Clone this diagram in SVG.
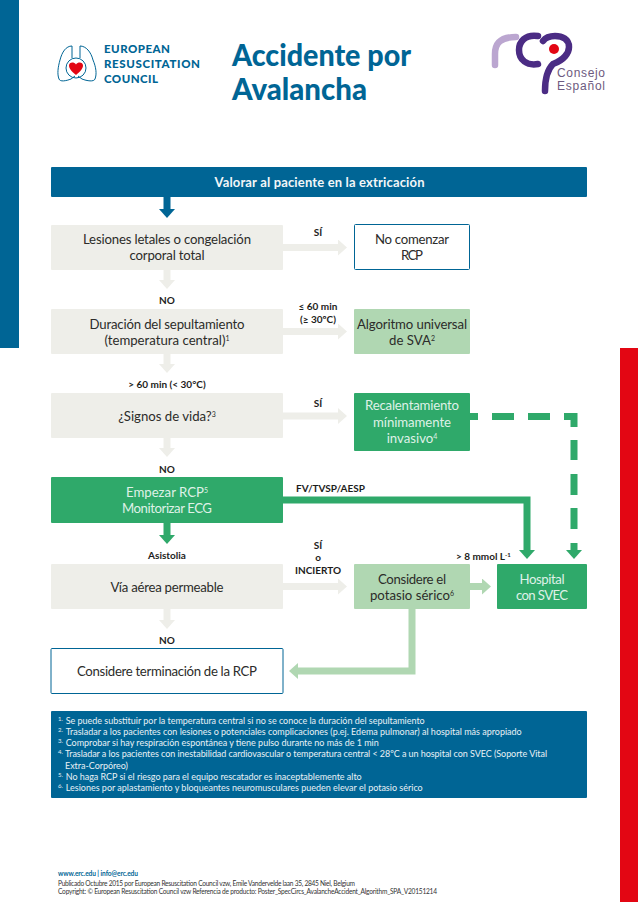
<svg xmlns="http://www.w3.org/2000/svg" width="638" height="902" viewBox="0 0 638 902">
<style>
text{font-family:"Lato","Open Sans","Liberation Sans",sans-serif}
.n{font-size:13.200px;fill:#2c2c2a;text-anchor:middle}
.w{fill:#dff1e7}
.l{font-size:10px;font-weight:700;fill:#1d1d1b;text-anchor:middle}
.f{font-size:9px;fill:#e8f1f5}
.fn{font-size:6px;fill:#e8f1f5}
.c{font-size:6.600px;fill:#333}
.t{font-size:29.500px;font-weight:900;fill:#006595}
.e{font-size:11.500px;font-weight:900;fill:#006595}
.gray{fill:#eeeee9}.lg{fill:#b0d7b2}.g{fill:#2fa96a}.b{fill:#006595}
.box{fill:#fff;stroke:#006595;stroke-width:1}
.a{fill:none;stroke-width:7;stroke-linejoin:miter}
.s{font-size:7px}
.rc{font-family:"Liberation Sans",sans-serif;font-size:12px;fill:#6d5a80}
</style>
<defs>
<marker id="hg" markerUnits="userSpaceOnUse" markerWidth="9" markerHeight="16" viewBox="0 0 9 16" refX="0" refY="8" orient="auto"><path d="M0,0L9,8L0,16Z" fill="#eeeee9"/></marker>
<marker id="hl" markerUnits="userSpaceOnUse" markerWidth="9" markerHeight="16" viewBox="0 0 9 16" refX="0" refY="8" orient="auto"><path d="M0,0L9,8L0,16Z" fill="#b0d7b2"/></marker>
<marker id="hd" markerUnits="userSpaceOnUse" markerWidth="9" markerHeight="16" viewBox="0 0 9 16" refX="0" refY="8" orient="auto"><path d="M0,0L9,8L0,16Z" fill="#2fa96a"/></marker>
<marker id="hb" markerUnits="userSpaceOnUse" markerWidth="9" markerHeight="16" viewBox="0 0 9 16" refX="0" refY="8" orient="auto"><path d="M0,0L9,8L0,16Z" fill="#006595"/></marker>
</defs>
<rect width="638" height="902" fill="#fff"/>
<rect x="0" y="0" width="19" height="348" fill="#006595"/>
<rect x="620" y="348" width="18" height="554" fill="#e30613"/>

<g id="erc-logo">
<path d="M72,46C66,46 62,52 60,60C58,67 57,74 59,79C60,82 66,81 71,79L75,76" fill="none" stroke="#006595" stroke-width="1"/>
<path d="M80,46C86,46 91,52 93,60C96,67 97,74 95,79C94,82 87,81 82,79L78,76" fill="none" stroke="#006595" stroke-width="1"/>
<path d="M72,46V58M80,46V58" fill="none" stroke="#006595" stroke-width="1"/>
<circle cx="76" cy="68" r="10" fill="none" stroke="#006595" stroke-width="1"/>
<path d="M76,75C71,71 69,68 69,65.500C69,62 74,61.500 76,64.500C78,61.500 83,62 83,65.500C83,68 81,71 76,75Z" fill="#e30613"/>
<text class="e" x="104" y="53" textLength="66">EUROPEAN</text>
<text class="e" x="104" y="68" textLength="96">RESUSCITATION</text>
<text class="e" x="104" y="83" textLength="54">COUNCIL</text>
</g>
<g id="title">
<text class="t" x="232" y="66" textLength="179" lengthAdjust="spacingAndGlyphs">Accidente por</text>
<text class="t" x="232" y="100" textLength="135" lengthAdjust="spacingAndGlyphs">Avalancha</text>
</g>
<g id="rcp-logo">
<path d="M495,65V54C495,43 501,37 516,37" fill="none" stroke="#bba6d0" stroke-width="6.500" stroke-linecap="round"/>
<path d="M538,36C525,34 519,42 519,50C519,60 527,66 538,64" fill="none" stroke="#4b2c84" stroke-width="6.500" stroke-linecap="round"/>
<path d="M545,91C545,80 547,70 553,64C564,60 569,53 569,47C569,39 562,36 555,36C550,36 546,37 543,41" fill="none" stroke="#4b2c84" stroke-width="6.500" stroke-linecap="round"/>
<circle cx="554" cy="49" r="5" fill="#e30613"/>
<text class="rc" x="557" y="77" textLength="48">Consejo</text>
<text class="rc" x="557" y="89.500" textLength="48">Español</text>
</g>

<g id="connectors">
<path class="a" stroke="#006595" d="M167,197V209" marker-end="url(#hb)"/>
<path class="a" stroke="#eeeee9" d="M283,247.500H338" marker-end="url(#hg)"/>
<path class="a" stroke="#eeeee9" d="M167,270V280" marker-end="url(#hg)"/>
<path class="a" stroke="#eeeee9" d="M283,331.500H338" marker-end="url(#hg)"/>
<path class="a" stroke="#eeeee9" d="M167,354V364" marker-end="url(#hg)"/>
<path class="a" stroke="#eeeee9" d="M283,416H338" marker-end="url(#hg)"/>
<path class="a" stroke="#eeeee9" d="M167,438V448" marker-end="url(#hg)"/>
<path class="a" stroke="#2fa96a" d="M167,522V535" marker-end="url(#hd)"/>
<path class="a" stroke="#2fa96a" d="M283,500H527V550" marker-end="url(#hd)"/>
<path class="a" stroke="#2fa96a" d="M470,416.500H478M492,416.500H514M528,416.500H550M564,416.500H574V427M574,440V460M574,474V495M574,508V529M574,543V550" marker-end="url(#hd)"/>
<path class="a" stroke="#eeeee9" d="M283,586.500H338" marker-end="url(#hg)"/>
<path class="a" stroke="#b0d7b2" d="M470,586.500H482" marker-end="url(#hl)"/>
<path class="a" stroke="#eeeee9" d="M167,609V620" marker-end="url(#hg)"/>
<path class="a" stroke="#b0d7b2" d="M412,609V671H298" marker-end="url(#hl)"/>
</g>

<g id="n-valorar"><rect class="b" x="51" y="167" width="536" height="30" rx="1"/><text x="319.500" y="187" text-anchor="middle" font-size="13" font-weight="700" fill="#f2f6f8" textLength="210">Valorar al paciente en la extricación</text></g>
<g id="n-lesiones"><rect class="gray" x="51" y="225" width="232" height="45" rx="1"/><text class="n" x="167" y="244" textLength="168">Lesiones letales o congelación</text><text class="n" x="167" y="260" textLength="75">corporal total</text></g>
<g id="n-nocomenzar"><rect class="box" x="354.500" y="224.500" width="115" height="45" rx="1"/><text class="n" x="412" y="244" textLength="74">No comenzar</text><text class="n" x="412" y="260" textLength="22">RCP</text></g>
<g id="n-duracion"><rect class="gray" x="51" y="309" width="232" height="45" rx="1"/><text class="n" x="167" y="329" textLength="155">Duración del sepultamiento</text><text class="n" x="167" y="345">(temperatura central)<tspan class="s" baseline-shift="super">1</tspan></text></g>
<g id="n-algoritmo"><rect class="lg" x="354" y="309" width="116" height="45" rx="1"/><text class="n" x="412" y="329" textLength="110">Algoritmo universal</text><text class="n" x="412" y="345">de SVA<tspan class="s" baseline-shift="super">2</tspan></text></g>
<g id="n-signos"><rect class="gray" x="51" y="393" width="232" height="45" rx="1"/><text class="n" x="167" y="421">¿Signos de vida?<tspan class="s" baseline-shift="super">3</tspan></text></g>
<g id="n-recalentamiento"><rect class="g" x="354" y="393" width="116" height="58" rx="1"/><text class="n w" x="412" y="410" textLength="94">Recalentamiento</text><text class="n w" x="412" y="427" textLength="78">mínimamente</text><text class="n w" x="412" y="443">invasivo<tspan class="s" baseline-shift="super">4</tspan></text></g>
<g id="n-empezar"><rect class="g" x="51" y="477" width="232" height="46" rx="1"/><text class="n w" x="167" y="497">Empezar RCP<tspan class="s" baseline-shift="super">5</tspan></text><text class="n w" x="167" y="513" textLength="90">Monitorizar ECG</text></g>
<g id="n-via"><rect class="gray" x="51" y="564" width="232" height="45" rx="1"/><text class="n" x="167" y="592" textLength="113">Vía aérea permeable</text></g>
<g id="n-potasio"><rect class="lg" x="354" y="564" width="116" height="45" rx="1"/><text class="n" x="412" y="584" textLength="68">Considere el</text><text class="n" x="412" y="600">potasio sérico<tspan class="s" baseline-shift="super">6</tspan></text></g>
<g id="n-hospital"><rect class="g" x="497" y="564" width="90" height="45" rx="1"/><text class="n w" x="542" y="584" textLength="45">Hospital</text><text class="n w" x="542" y="600" textLength="52">con SVEC</text></g>
<g id="n-terminacion"><rect class="box" x="51" y="648.500" width="232" height="45" rx="1"/><text class="n" x="167" y="676" textLength="180">Considere terminación de la RCP</text></g>

<g id="labels">
<text class="l" x="318" y="236">SÍ</text>
<text class="l" x="167" y="304">NO</text>
<text class="l" x="318" y="310">≤ 60 min</text>
<text class="l" x="318" y="323">(≥ 30ºC)</text>
<text class="l" x="167" y="388">&gt; 60 min (&lt; 30°C)</text>
<text class="l" x="318" y="407">SÍ</text>
<text class="l" x="167" y="473">NO</text>
<text class="l" x="296" y="492" style="text-anchor:start" textLength="69">FV/TVSP/AESP</text>
<text class="l" x="167" y="559">Asistolia</text>
<text class="l" x="318" y="549">SÍ</text>
<text class="l" x="318" y="561">o</text>
<text class="l" x="318" y="574" textLength="46">INCIERTO</text>
<text class="l" x="456" y="560" style="text-anchor:start">&gt; 8 mmol L<tspan font-size="6" baseline-shift="super">-1</tspan></text>
<text class="l" x="167" y="644">NO</text>
</g>

<g id="footnotes">
<rect class="b" x="51" y="711" width="536" height="87" rx="1"/>
<text class="fn" x="58" y="721">1.</text><text class="f" x="65.700" y="724" textLength="359">Se puede substituir por la temperatura central si no se conoce la duración del sepultamiento</text>
<text class="fn" x="58" y="732">2.</text><text class="f" x="65.700" y="735" textLength="456">Trasladar a los pacientes con lesiones o potenciales complicaciones (p.ej. Edema pulmonar) al hospital más apropiado</text>
<text class="fn" x="58" y="743">3.</text><text class="f" x="65.700" y="746" textLength="313">Comprobar si hay respiración espontánea y tiene pulso durante no más de 1 min</text>
<text class="fn" x="58" y="754">4.</text><text class="f" x="65" y="757" textLength="482">Trasladar a los pacientes con inestabilidad cardiovascular o temperatura central &lt; 28ºC a un hospital con SVEC (Soporte Vital</text>
<text class="f" x="65" y="769" textLength="63">Extra-Corpóreo)</text>
<text class="fn" x="58" y="777">5.</text><text class="f" x="65.700" y="780" textLength="296">No haga RCP si el riesgo para el equipo rescatador es inaceptablemente alto</text>
<text class="fn" x="58" y="788">6.</text><text class="f" x="65.700" y="791" textLength="357">Lesiones por aplastamiento y bloqueantes neuromusculares pueden elevar el potasio sérico</text>
</g>

<g id="footer">
<text x="58" y="876" font-size="6.600" font-weight="700" fill="#006595" textLength="80">www.erc.edu | info@erc.edu</text>
<text class="c" x="58" y="885.500" textLength="297">Publicado Octubre 2015 por European Resuscitation Council vzw, Emile Vandervelde laan 35, 2845 Niel, Belgium</text>
<text class="c" x="58" y="894" textLength="379">Copyright: © European Resuscitation Council vzw  Referencia de producto: Poster_SpecCircs_AvalancheAccident_Algorithm_SPA_V20151214</text>
</g>
</svg>
